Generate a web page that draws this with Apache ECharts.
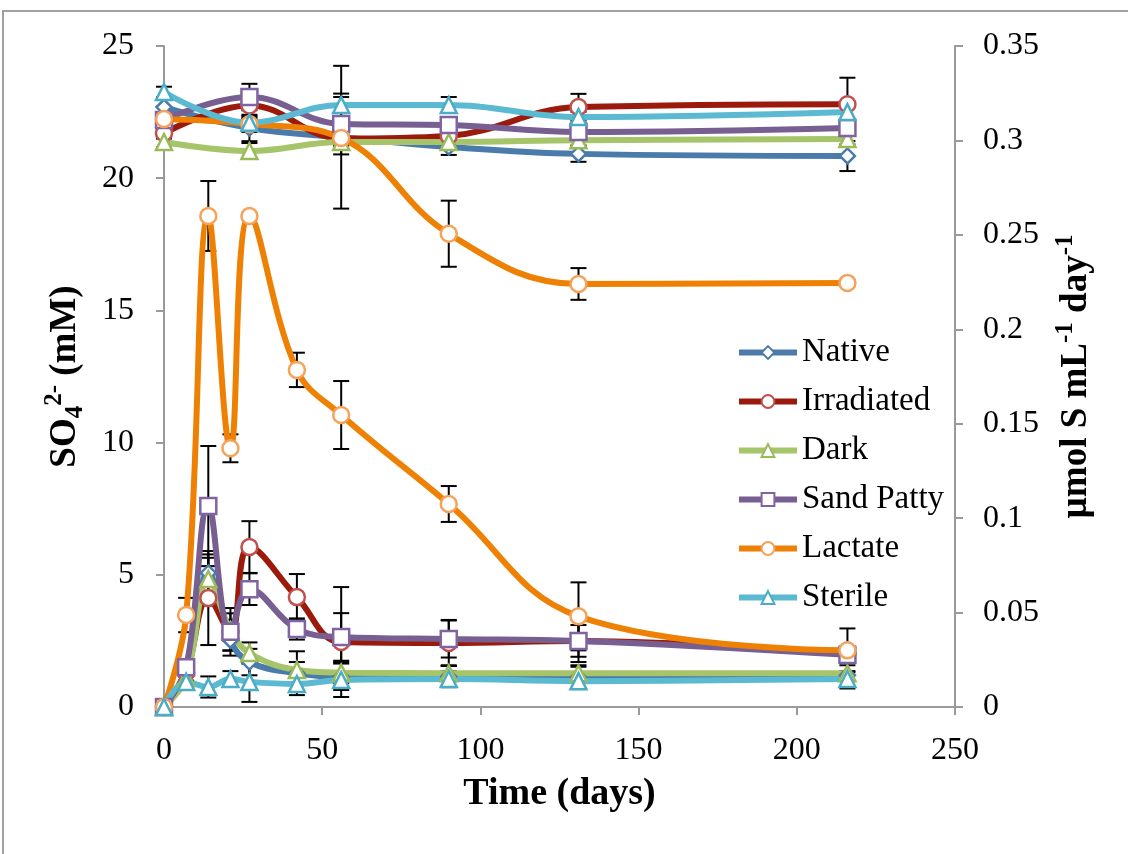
<!DOCTYPE html>
<html>
<head>
<meta charset="utf-8">
<script src="https://cdn.jsdelivr.net/npm/echarts@6/dist/echarts.min.js"></script>
<style>
html,body{margin:0;padding:0;background:#fff;}
#chart{width:1128px;height:854px;}
</style>
</head>
<body>
<div id="chart"></div>
<script>
// ---- data ----
const seriesNames = ['Native', 'Irradiated', 'Dark', 'Sand Patty', 'Lactate', 'Sterile'];
const sulfateDays = [0, 27, 56, 90, 131, 216];
const rateDays = [0, 7, 14, 21, 27, 42, 56, 90, 131, 216];

// SO4 2- concentration (mM), left axis
const sulfNative     = [22.69, 21.9, 21.55, 21.18, 20.92, 20.84];
const sulfIrradiated = [21.7, 22.75, 21.5, 21.6, 22.69, 22.8];
const sulfDark       = [21.37, 21.03, 21.37, 21.37, 21.44, 21.48];
const sulfSandPatty  = [22.2, 23.07, 22.05, 22.01, 21.75, 21.9];
const sulfLactate    = [22.24, 22.05, 21.52, 17.9, 16.0, 16.04];
const sulfSterile    = [23.26, 22.1, 22.77, 22.77, 22.31, 22.5];

const sulfErrNative     = [0.3, 0.5, 2.7, 0.3, 0.3, 0.57];
const sulfErrIrradiated = [0.2, 0.5, 0, 0, 0.5, 1.0];
const sulfErrDark       = [0.2, 0.3, 0.3, 0.2, 0.2, 0.2];
const sulfErrSandPatty  = [0.2, 0.5, 1.15, 0.2, 0.2, 0.2];
const sulfErrLactate    = [0.2, 0.3, 0.3, 1.25, 0.6, 0.1];
const sulfErrSterile    = [0.2, 0.2, 0.3, 0.3, 0.2, 0.3];

// rate (µmol S mL-1 day-1), right axis
const rateNative     = [0, 0.0168, 0.071, 0.0354, 0.0238, 0.0179, 0.016, 0.0161, 0.0157, 0.0168];
const rateIrradiated = [0, 0.0182, 0.0577, 0.0398, 0.0847, 0.0582, 0.0344, 0.0339, 0.035, 0.028];
const rateDark       = [0, 0.0154, 0.0678, 0.0406, 0.0286, 0.0196, 0.0182, 0.0179, 0.0179, 0.0179];
const rateSandPatty  = [0, 0.0211, 0.1064, 0.0398, 0.0624, 0.0413, 0.0371, 0.036, 0.035, 0.0276];
const rateLactate    = [0, 0.0487, 0.26, 0.137, 0.26, 0.1785, 0.1546, 0.1075, 0.048, 0.030];
const rateSterile    = [0, 0.0133, 0.0106, 0.0148, 0.0133, 0.0122, 0.0143, 0.0148, 0.0137, 0.0148];

const rateErrNative     = [0, 0.0042, 0.0098, 0.0056, 0.007, 0.0116, 0.007, 0.0056, 0.0056, 0.007];
const rateErrIrradiated = [0, 0.0042, 0.0249, 0.0126, 0.0137, 0.0122, 0.0291, 0.0122, 0.0112, 0.0042];
const rateErrDark       = [0, 0.0042, 0.0112, 0.0056, 0.0056, 0.0042, 0.0056, 0.0042, 0.0042, 0.0042];
const rateErrSandPatty  = [0, 0.0042, 0.0318, 0.0098, 0.0084, 0.0056, 0.0126, 0.0098, 0.0084, 0.0042];
const rateErrLactate    = [0, 0.0091, 0.0185, 0.0074, 0.0014, 0.0091, 0.018, 0.0095, 0.018, 0.0116];
const rateErrSterile    = [0, 0.0028, 0.0056, 0.0042, 0.0106, 0.0042, 0.0042, 0.0042, 0.0042, 0.0042];

const xTicks = [0, 50, 100, 150, 200, 250];

// ---- styles ----
const styles = {
  'Native':     {color: '#4a7bab', border: '#4a7bab', symbol: 'diamond', size: 15},
  'Irradiated': {color: '#9b1a0c', border: '#c0504d', symbol: 'circle', size: 16},
  'Dark':       {color: '#a6c46a', border: '#9bbb59', symbol: 'triangle', size: 16},
  'Sand Patty': {color: '#775f92', border: '#8064a2', symbol: 'rect', size: 16},
  'Lactate':    {color: '#ee8104', border: '#f5a25a', symbol: 'circle', size: 16},
  'Sterile':    {color: '#5bbad1', border: '#4bacc6', symbol: 'triangle', size: 16}
};

const sulfSets = [sulfNative, sulfIrradiated, sulfDark, sulfSandPatty, sulfLactate, sulfSterile];
const sulfErrs = [sulfErrNative, sulfErrIrradiated, sulfErrDark, sulfErrSandPatty, sulfErrLactate, sulfErrSterile];
const rateSets = [rateNative, rateIrradiated, rateDark, rateSandPatty, rateLactate, rateSterile];
const rateErrs = [rateErrNative, rateErrIrradiated, rateErrDark, rateErrSandPatty, rateErrLactate, rateErrSterile];

function lineSeries(name, xs, ys, axis) {
  const s = styles[name];
  return {
    name: name, type: 'line', yAxisIndex: axis,
    data: xs.map((x, i) => [x, ys[i]]),
    smooth: 0.4,
    symbol: s.symbol, symbolSize: s.size,
    lineStyle: {color: s.color, width: 6},
    itemStyle: {color: '#ffffff', borderColor: s.border, borderWidth: 2.5},
    z: 3
  };
}
function errSeries(name, xs, ys, es, axis) {
  return {
    name: 'err ' + name, type: 'custom', yAxisIndex: axis,
    data: xs.map((x, i) => [x, ys[i], es[i]]),
    encode: {x: 0, y: 1},
    z: 2,
    renderItem: function (params, api) {
      const x = api.value(0), y = api.value(1), e = api.value(2);
      if (!e) return null;
      const t = api.coord([x, y + e]);
      const b = api.coord([x, y - e]);
      const w = 8;
      const st = {stroke: '#000', lineWidth: 2};
      return {type: 'group', children: [
        {type: 'line', shape: {x1: t[0], y1: t[1], x2: b[0], y2: b[1]}, style: st},
        {type: 'line', shape: {x1: t[0] - w, y1: t[1], x2: t[0] + w, y2: t[1]}, style: st},
        {type: 'line', shape: {x1: b[0] - w, y1: b[1], x2: b[0] + w, y2: b[1]}, style: st}
      ]};
    }
  };
}

const series = [];
seriesNames.forEach((n, i) => {
  series.push(errSeries(n, sulfateDays, sulfSets[i], sulfErrs[i], 0));
  series.push(errSeries(n, rateDays, rateSets[i], rateErrs[i], 1));
});
seriesNames.forEach((n, i) => {
  series.push(lineSeries(n, sulfateDays, sulfSets[i], 0));
  series.push(lineSeries(n, rateDays, rateSets[i], 1));
});

const FONT = '"Liberation Serif", "Times New Roman", serif';
const axisLineStyle = {color: '#9a9a9a', width: 2};

const chart = echarts.init(document.getElementById('chart'));
chart.setOption({
  animation: false,
  backgroundColor: '#ffffff',
  textStyle: {fontFamily: FONT, color: '#000'},
  graphic: [{
    type: 'rect', z: -10, silent: true,
    shape: {x: 3, y: 11, width: 1300, height: 1000},
    style: {fill: 'none', stroke: '#a0a0a0', lineWidth: 2}
  }],
  grid: {left: 164, right: 173, top: 46, bottom: 147, containLabel: false},
  legend: {
    orient: 'vertical',
    left: 731, top: 331,
    itemWidth: 58, itemHeight: 16, itemGap: 16,
    lineStyle: {width: 6},
    data: seriesNames,
    textStyle: {fontFamily: FONT, fontSize: 33, color: '#000', padding: [0, 0, 0, 0]}
  },
  xAxis: {
    type: 'value', min: 0, max: 250, interval: 50,
    name: 'Time (days)', nameLocation: 'middle', nameGap: 68,
    nameTextStyle: {fontFamily: FONT, fontSize: 38, fontWeight: 'bold', color: '#000'},
    axisLine: {show: true, lineStyle: axisLineStyle},
    axisTick: {show: true, length: 8, lineStyle: axisLineStyle},
    axisLabel: {fontFamily: FONT, fontSize: 32, color: '#000', margin: 28,
      formatter: v => (xTicks.indexOf(v) >= 0 ? String(v) : '')},
    splitLine: {show: false}
  },
  yAxis: [{
    type: 'value', min: 0, max: 25, interval: 5, position: 'left',
    name: 'SO{sub|4}{sup|2-} (mM)', nameLocation: 'middle', nameGap: 76, nameRotate: 90,
    nameTextStyle: {fontFamily: FONT, fontSize: 37, fontWeight: 'bold', color: '#000',
      rich: {
        sub: {fontFamily: FONT, fontSize: 25, fontWeight: 'bold', verticalAlign: 'bottom', lineHeight: 46, padding: [16, 0, 0, 0]},
        sup: {fontFamily: FONT, fontSize: 25, fontWeight: 'bold', verticalAlign: 'top', lineHeight: 46, padding: [0, 0, 16, 0]}
      }},
    axisLine: {show: true, lineStyle: axisLineStyle},
    axisTick: {show: true, length: 8, lineStyle: axisLineStyle},
    axisLabel: {fontFamily: FONT, fontSize: 32, color: '#000', margin: 30},
    splitLine: {show: false}
  }, {
    type: 'value', min: 0, max: 0.35, interval: 0.05, position: 'right',
    name: 'µmol S mL{sup|-1} day{sup|-1}', nameLocation: 'middle', nameGap: 98, nameRotate: 90,
    nameTextStyle: {fontFamily: FONT, fontSize: 37, fontWeight: 'bold', color: '#000',
      rich: {
        sup: {fontFamily: FONT, fontSize: 25, fontWeight: 'bold', verticalAlign: 'top', lineHeight: 46, padding: [0, 0, 16, 0]}
      }},
    axisLine: {show: true, lineStyle: axisLineStyle},
    axisTick: {show: true, length: 8, lineStyle: axisLineStyle},
    axisLabel: {fontFamily: FONT, fontSize: 32, color: '#000', margin: 28,
      formatter: v => String(Math.round(v * 100) / 100)},
    splitLine: {show: false}
  }],
  series: series
});
</script>
</body>
</html>
